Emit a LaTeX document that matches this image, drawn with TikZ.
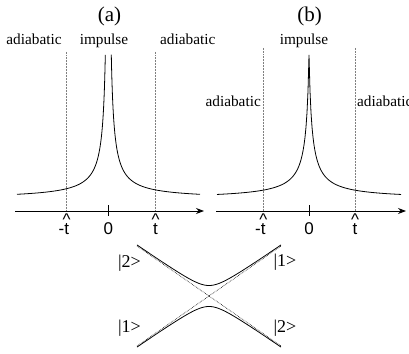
\documentclass[tikz,border=0pt]{standalone}
\usepackage{fontspec}
\setmainfont{Liberation Serif}
\newfontfamily\lsans{Liberation Sans}
\usetikzlibrary{arrows.meta}
\newcommand\hatt{\leavevmode\setbox0\hbox{t}\hbox to \wd0{\hss\raisebox{8.5pt}{\textasciicircum}\hss}\kern-\wd0 t}
\begin{document}
\begin{tikzpicture}[x=1pt,y=-1pt,
  lbl/.style={font=\fontsize{15.3}{17}\selectfont, inner sep=0pt, anchor=base},
  ttl/.style={font=\fontsize{21}{24}\selectfont, inner sep=0pt},
  axl/.style={font=\lsans\fontsize{17}{19}\selectfont, inner sep=0pt, anchor=base},
  ket/.style={font=\fontsize{18}{20}\selectfont, inner sep=0pt},
  guide/.style={gray, densely dotted, line width=0.5pt},
  xguide/.style={black, densely dotted, line width=0.6pt},
  curve/.style={line width=0.8pt},
  axis/.style={line width=1pt, -{Stealth[length=8pt,width=6pt]}},
  tick/.style={line width=1pt},
  ]
\useasboundingbox (0,0) rectangle (409,353);

% titles
\node[ttl] (ta) at (109.5,16) {(a)};
\node[ttl] (tb) at (309.5,16) {(b)};

% region labels
\node[lbl] (ad1) at (34,45) {adiabatic};
\node[lbl] (im1) at (104,45) {impulse};
\node[lbl, anchor=base west] (ad2) at (160,45) {adiabatic};
\node[lbl] (im2) at (304,45) {impulse};
\node[lbl, anchor=base east] (ad3) at (261,106) {adiabatic};
\node[lbl, anchor=base west] (ad4) at (357,106) {adiabatic};

% guides panel a
\coordinate (ga1t) at (66.7,52);  \coordinate (ga1b) at (66.7,211);
\coordinate (ga2t) at (155.5,52); \coordinate (ga2b) at (155.5,211);
\draw[guide] (ga1t) -- (ga1b);
\draw[guide] (ga2t) -- (ga2b);
% guides panel b
\coordinate (gb1t) at (263.3,48); \coordinate (gb1b) at (263.3,211);
\coordinate (gb2t) at (355,48);   \coordinate (gb2b) at (355,211);
\draw[guide] (gb1t) -- (gb1b);
\draw[guide] (gb2t) -- (gb2b);

% curves
\draw[curve] plot[domain=17:105.32, samples=300] (\x,{199-430/(108.3-\x)});
\draw[curve] plot[domain=111.28:200, samples=300] (\x,{199-430/(\x-108.3)});
\draw[curve] plot[domain=217:401, samples=185] (\x,{199-432/(abs(\x-309)+3)});

% axes
\coordinate (axa0) at (15,211);  \coordinate (axa1) at (204,211);
\coordinate (axb0) at (216,211); \coordinate (axb1) at (406,211);
\draw[axis] (axa0) -- (axa1);
\draw[axis] (axb0) -- (axb1);
\coordinate (tka0) at (108.3,205); \coordinate (tka1) at (108.3,216);
\coordinate (tkb0) at (309,205);   \coordinate (tkb1) at (309,216);
\draw[tick] (tka0) -- (tka1);
\draw[tick] (tkb0) -- (tkb1);

% axis labels
\node[axl] (l0a) at (108.3,234) {0};
\node[axl] (lta) at (155.5,234) {\hatt};
\node[axl, anchor=base east] (lma) at (69.2,234) {-\hatt};
\node[axl] (l0b) at (309,234) {0};
\node[axl] (ltb) at (355,234) {\hatt};
\node[axl, anchor=base east] (lmb) at (265.8,234) {-\hatt};

% level crossing
\coordinate (d1s) at (137,246); \coordinate (d1e) at (281,346);
\coordinate (d2s) at (137,346); \coordinate (d2e) at (281,246);
\draw[xguide] (d1s) -- (d1e);
\draw[xguide] (d2s) -- (d2e);
\draw[curve] plot[domain=-72:72, samples=121] ({209+\x},{296-sqrt(0.4816*\x*\x+110)});
\draw[curve] plot[domain=-72:72, samples=121] ({209+\x},{296+sqrt(0.4816*\x*\x+110)});

\node[ket] (k2l) at (129.5,263) {|2>};
\node[ket] (k1l) at (129.5,328) {|1>};
\node[ket] (k1r) at (285,262) {|1>};
\node[ket] (k2r) at (285,328) {|2>};
\end{tikzpicture}
\end{document}
